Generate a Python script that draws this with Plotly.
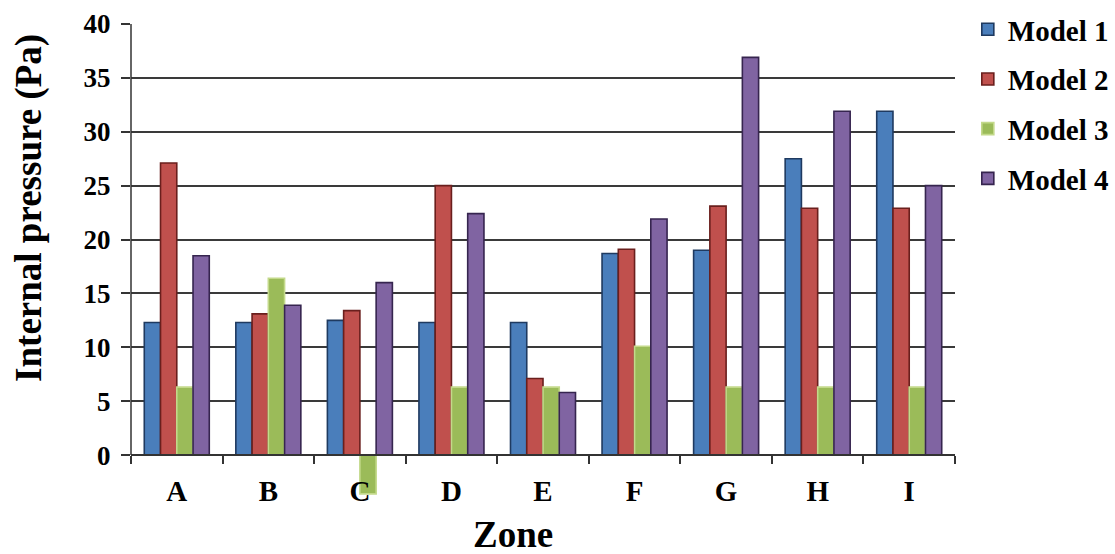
import plotly.graph_objects as go

# Zones along the x axis
zones = ["A", "B", "C", "D", "E", "F", "G", "H", "I"]

# Internal pressure (Pa) per model
model_1 = [12.3, 12.3, 12.5, 12.3, 12.3, 18.7, 19.0, 27.5, 31.9]
model_2 = [27.1, 13.1, 13.4, 25.0, 7.1, 19.1, 23.1, 22.9, 22.9]
model_3 = [6.3, 16.4, -3.6, 6.3, 6.3, 10.1, 6.3, 6.3, 6.3]
model_4 = [18.5, 13.9, 16.0, 22.4, 5.8, 21.9, 36.9, 31.9, 25.0]

y_ticks = [0, 5, 10, 15, 20, 25, 30, 35, 40]

series = [
    ("Model 1", model_1, "#4A7EBB", "#1F3A60"),
    ("Model 2", model_2, "#C0504D", "#6A1F1D"),
    ("Model 3", model_3, "#9BBB59", "#C3D98A"),
    ("Model 4", model_4, "#8064A2", "#36254F"),
]

FONT = "Liberation Serif"
y_min, y_max = -3.8, 40

fig = go.Figure()
for name, vals, fill, edge in series:
    fig.add_trace(go.Bar(
        x=zones, y=vals, name=name, legendgroup=name,
        marker=dict(color=fill, line=dict(color=edge, width=1.6)),
    ))

zero_frac = (0 - y_min) / (y_max - y_min)

fig.update_layout(
    width=1115, height=554,
    margin=dict(l=131, r=160, t=24, b=58, autoexpand=False),
    paper_bgcolor="white", plot_bgcolor="white",
    barmode="group", bargap=0.29, bargroupgap=0,
    font=dict(family=FONT, color="black"),
    showlegend=True,
    legend=dict(
        xref="container", yref="container",
        x=0.868, y=0.993, xanchor="left", yanchor="top",
        font=dict(family=FONT, size=29, color="black", weight="bold"),
        traceorder="grouped", tracegroupgap=9,
        bgcolor="rgba(0,0,0,0)",
    ),
    xaxis=dict(
        type="category",
        anchor="free", position=zero_frac,
        showline=True, linecolor="#333333", linewidth=1.5,
        ticks="outside", ticklen=8, tickcolor="#333333", tickwidth=1.5,
        tickson="boundaries",
        showgrid=False,
        tickfont=dict(family=FONT, size=29, color="black", weight="bold"),
        ticklabelstandoff=10,
    ),
    yaxis=dict(
        range=[y_min, y_max],
        tickvals=y_ticks,
        showline=False,
        ticks="outside", ticklen=9, tickcolor="#333333", tickwidth=1.5,
        showgrid=True, gridcolor="#3a3a3a", gridwidth=1.6,
        zeroline=False,
        tickfont=dict(family=FONT, size=27, color="black", weight="bold"),
        ticklabelstandoff=5,
    ),
    shapes=[
        # vertical axis line from 0 to the top of the scale
        dict(type="line", xref="paper", yref="y", x0=0, x1=0, y0=0, y1=y_max,
             line=dict(color="#333333", width=1.5)),
    ],
    annotations=[
        dict(text="Internal pressure (Pa)", textangle=-90,
             xref="paper", yref="paper", x=-0.124, y=0.61,
             xanchor="center", yanchor="middle", showarrow=False,
             font=dict(family=FONT, size=37, color="black", weight="bold")),
        dict(text="Zone", xref="paper", yref="paper", x=0.4636, y=-0.082,
             xanchor="center", yanchor="middle", showarrow=False,
             font=dict(family=FONT, size=37, color="black", weight="bold")),
    ],
)

fig.write_html("out.html")
